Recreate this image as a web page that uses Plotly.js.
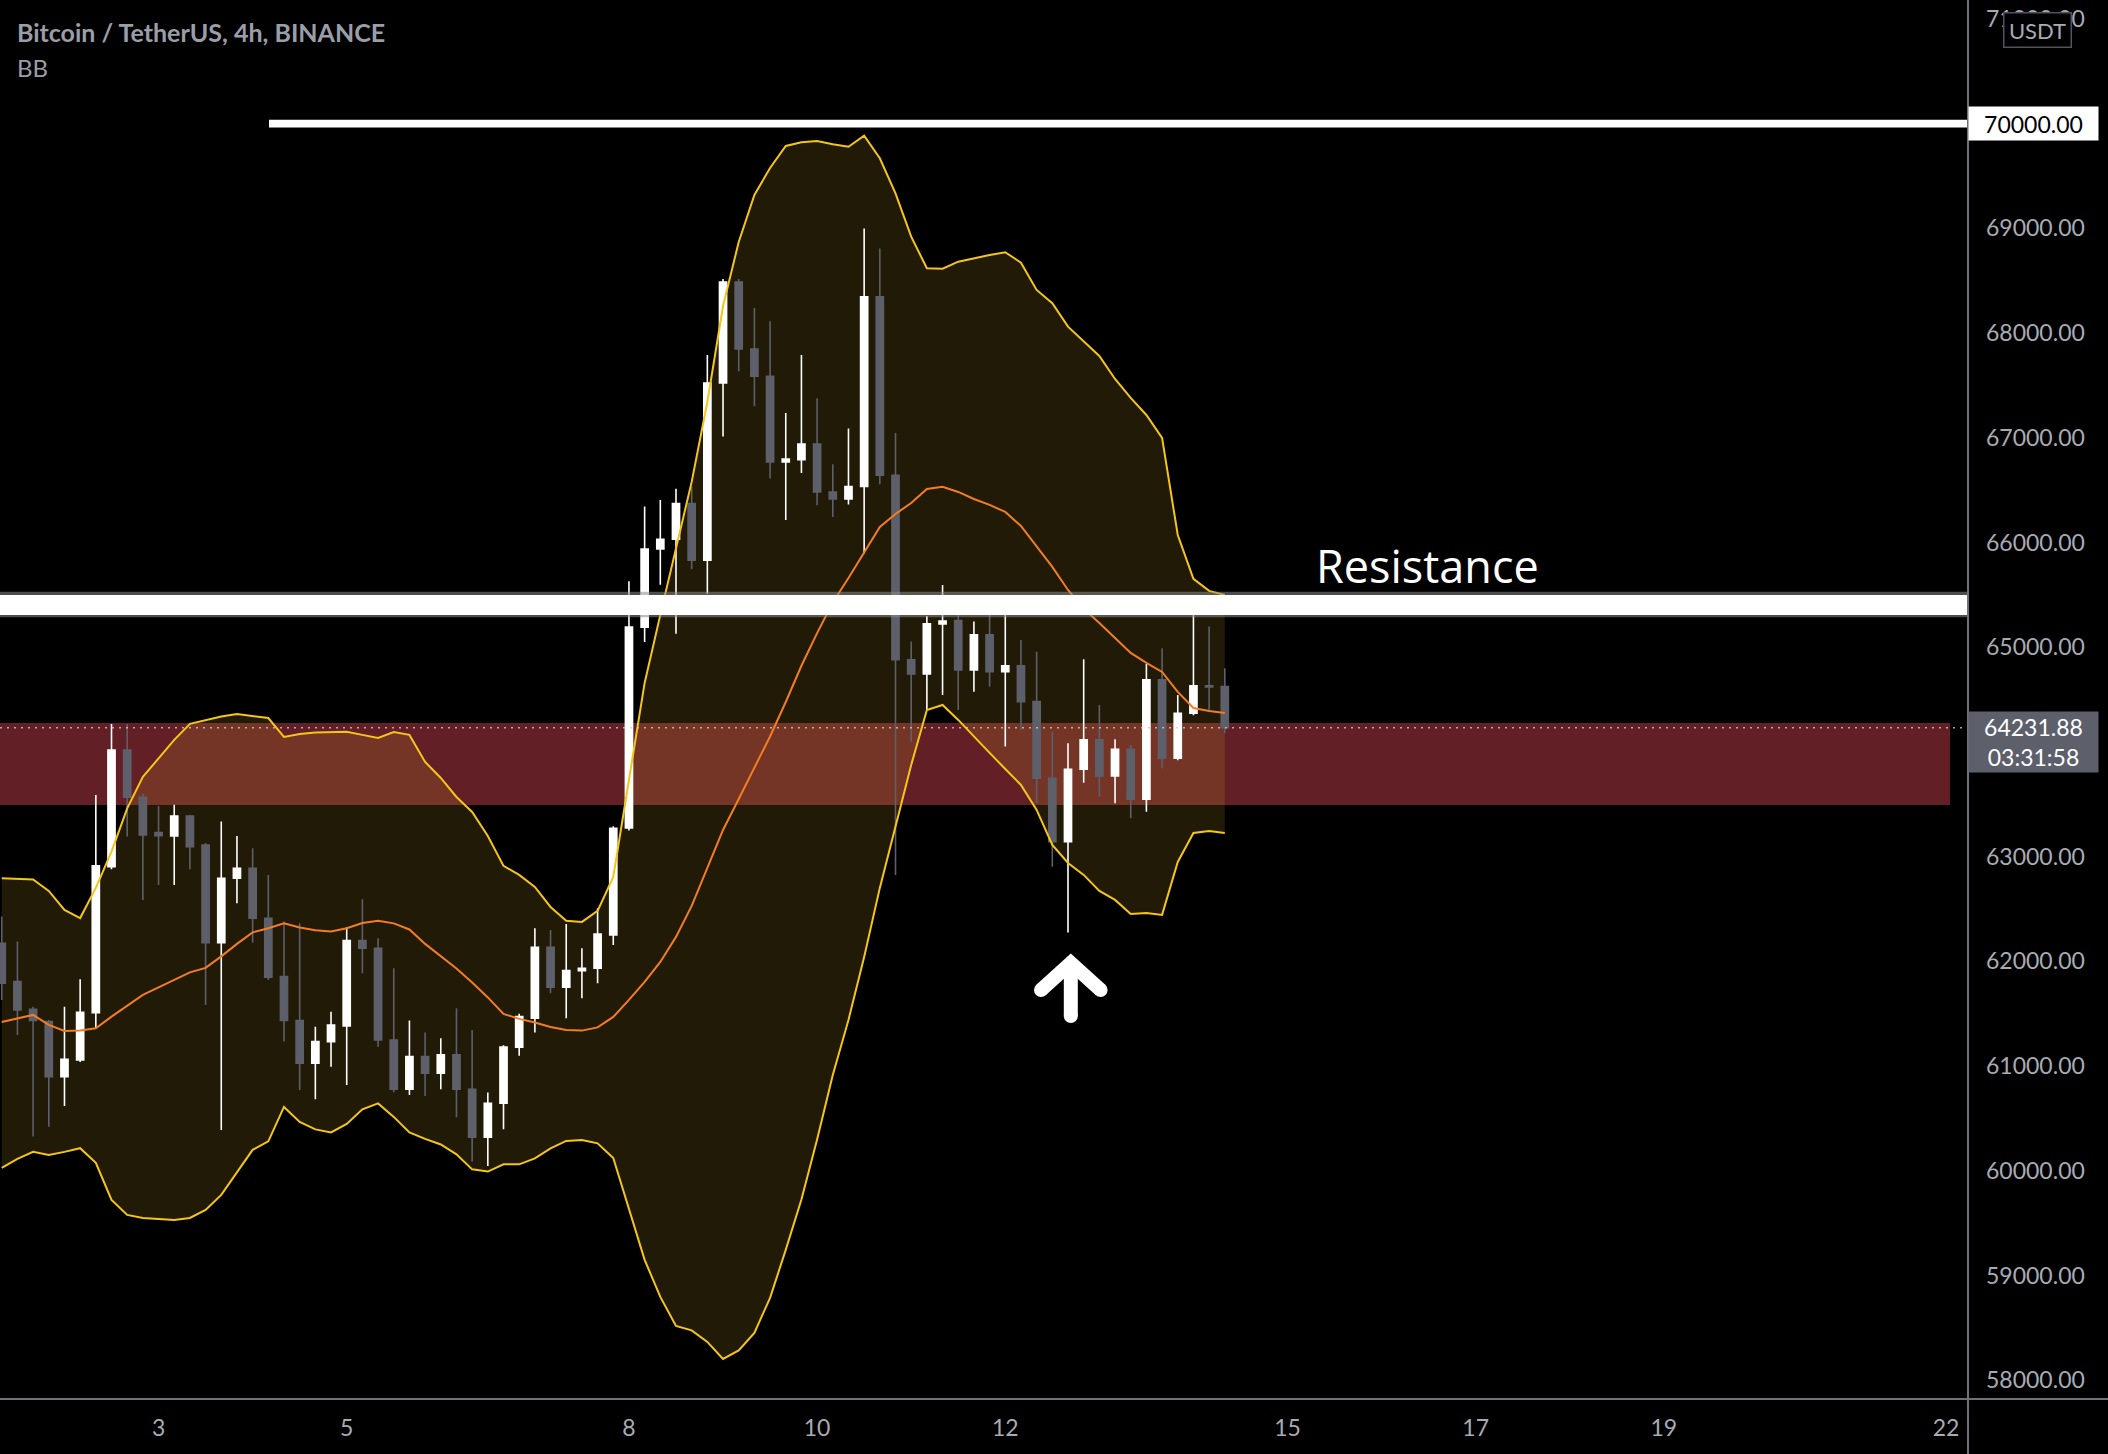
<!DOCTYPE html>
<html>
<head>
<meta charset="utf-8">
<script src="https://cdn.plot.ly/plotly-3.0.1.min.js"></script>
<style>
  html, body { margin: 0; padding: 0; background: #000; }
  #chart { width: 2108px; height: 1454px; }
</style>
</head>
<body>
<div id="chart"></div>
<script>
// ---------------- DATA ----------------
// BTCUSDT 4h candles, first visible bar opens 2021-11-01 08:00 (UTC)
const firstBarUTC = Date.UTC(2021, 10, 1, 8, 0, 0);
const barHours = 4;

const opens = [62173,61807,61543,61425,60900,61059,61511,62905,64019,63568,
  63230,63198,63389,63112,62179,62794,62890,62412,61855,61435,
  61028,61234,61384,62198,62126,61250,60779,61091,60932,61107,
  60779,60321,60646,61181,61457,62135,61753,61912,61935,62253,
  63274,65192,65938,66031,66372,65831,67524,68487,67848,67588,
  66769,66791,66940,66483,66415,66535,68346,66642,64879,64745,
  65223,65254,64783,65118,64767,64822,64481,63749,63144,63835,
  64115,63771,64026,63549,64688,63940,64370,64631,64625];
const highs = [62428,62189,61568,61440,61568,61830,63590,64268,64268,63600,
  63485,63495,63400,63130,63335,63198,63081,62826,62380,62365,
  61377,61520,62326,62594,62221,61935,61435,61320,61266,61553,
  61346,60747,61200,61500,62317,62300,62358,62126,62508,63290,
  65630,66343,66407,66514,66535,67792,68517,68517,68240,68112,
  67237,67792,67379,66748,67089,68999,68807,67047,65054,65299,
  65595,65468,65245,65309,65309,65070,64958,64194,64083,64886,
  64449,64122,64067,64841,64991,64545,65400,65197,64800];
const lows = [61632,61298,60327,60422,60620,61040,61362,62880,63192,62587,
  62730,62730,62880,61584,60391,62556,62179,61823,61234,60773,
  60684,60995,60820,61887,61186,60750,60725,60715,60779,60512,
  60088,60047,60398,61098,61320,61696,61457,61648,61792,62157,
  63250,65051,65597,65128,65746,65511,67012,67635,67301,66611,
  66216,66663,66355,66244,66364,65895,66556,62826,64099,64401,
  64545,64401,64576,64624,64051,64210,63511,62905,62275,63707,
  63574,63511,63367,63430,63845,63920,64350,64401,64179];
const closes = [61792,61537,61435,60900,61066,61515,62912,64019,63568,63208,
  63200,63389,63096,62179,62794,62890,62412,61849,61435,61028,
  61234,61393,62198,62126,61250,60779,61091,60932,61107,60779,
  60321,60646,61181,61473,62135,61753,61912,61935,62262,63272,
  65192,65938,66031,66372,65831,67524,68487,67848,67588,66769,
  66798,66940,66483,66415,66535,68346,66642,64881,64745,65223,
  65251,64783,65118,64767,64822,64481,63749,63144,63835,64115,
  63771,64026,63549,64688,63940,64370,64631,64620,64231.88];

// Bollinger Bands (20, 2)
const bbUpper = [62794,62792,62783,62673,62492,62414,62702,63048,63462,63762,
  63943,64115,64268,64306,64339,64362,64343,64324,64144,64172,
  64185,64191,64194,64163,64133,64191,64163,63905,63752,63570,
  63427,63198,62912,62826,62711,62520,62387,62377,62482,62807,
  63733,64659,65309,65944,66579,67342,68259,68870,69319,69577,
  69787,69822,69835,69803,69780,69885,69670,69335,68921,68619,
  68615,68682,68715,68746,68772,68673,68412,68285,68062,67925,
  67782,67562,67381,67218,66999,66072,65653,65538,65499];
const bbBasis = [61422,61456,61489,61393,61336,61341,61362,61473,61575,61680,
  61752,61823,61895,61938,62048,62167,62277,62317,62363,62324,
  62298,62286,62316,62367,62388,62363,62305,62167,62052,61933,
  61799,61656,61499,61451,61417,61374,61346,61339,61370,61470,
  61632,61804,61995,62234,62530,62893,63255,63551,63848,64148,
  64477,64823,65135,65427,65662,65907,66149,66273,66378,66512,
  66533,66483,66416,66359,66292,66158,65967,65767,65547,65366,
  65232,65089,64946,64850,64764,64573,64420,64391,64373];
const bbLower = [60028,60114,60181,60152,60181,60216,60076,59722,59579,59550,
  59541,59531,59550,59627,59770,59990,60200,60281,60610,60467,
  60396,60367,60448,60587,60644,60515,60367,60305,60252,60157,
  60014,59993,60062,60062,60119,60214,60286,60295,60262,60123,
  59637,59150,58796,58519,58476,58366,58204,58285,58452,58787,
  59245,59726,60300,60916,61441,62043,62702,63303,63876,64401,
  64449,64306,64144,63991,63838,63685,63447,63112,62940,62826,
  62673,62587,62453,62463,62444,62950,63227,63246,63227];

// Axis ticks (64000 and 70000 sit under the price labels, as on the original)
const dayTickVals = ['2021-11-03','2021-11-05','2021-11-08','2021-11-10','2021-11-12',
                     '2021-11-15','2021-11-17','2021-11-19','2021-11-22'];
const dayTickText = ['3','5','8','10','12','15','17','19','22'];
const priceTickVals = [58000,59000,60000,61000,62000,63000,65000,66000,67000,68000,69000,71000];
const priceTickText = priceTickVals.map(v => v.toFixed(2));

// Drawn levels
const lastPrice = 64231.88;
const countdown = '03:31:58';
const roundLevel = 70000;
const resistanceLow = 65309, resistanceHigh = 65500;
const supportLow = 63494, supportHigh = 64277;

// ---------------- BUILD ----------------
const times = closes.map((_, i) =>
  new Date(firstBarUTC + i * barHours * 3600e3).toISOString().slice(0, 19).replace('T', ' '));

const W = 2108, H = 1454;
const PL = 0, PR = 1968, PT = 0, PB = 1399;           // plot area in px
const px = x => (x - PL) / (PR - PL);
const py = y => 1 - (y - PT) / (PB - PT);

const xRange = ['2021-11-01 07:33:13', '2021-11-22 05:35:30'];
const yRange = [57821, 71181];

const tickFont = { family: 'Lato, "Open Sans", sans-serif', size: 23, color: '#a9abb2' };
const yellow = '#f5c518', orange = '#f47d20';

const traces = [
  { type: 'scatter', mode: 'lines', x: times, y: bbUpper, line: { width: 0, color: 'rgba(0,0,0,0)' },
    hoverinfo: 'skip', showlegend: false, xaxis: 'x', yaxis: 'y' },
  { type: 'scatter', mode: 'lines', x: times, y: bbLower, line: { width: 0, color: 'rgba(0,0,0,0)' },
    fill: 'tonexty', fillcolor: 'rgba(245,200,50,0.13)', hoverinfo: 'skip', showlegend: false, xaxis: 'x', yaxis: 'y' },
  { type: 'candlestick', x: times, open: opens, high: highs, low: lows, close: closes,
    increasing: { line: { color: '#ffffff', width: 1.6 }, fillcolor: '#ffffff' },
    decreasing: { line: { color: '#5d606b', width: 1.6 }, fillcolor: '#5d606b' },
    whiskerwidth: 0, hoverinfo: 'skip', showlegend: false, xaxis: 'x2', yaxis: 'y2' },
  { type: 'scatter', mode: 'lines', x: times, y: bbBasis, line: { width: 2, color: orange },
    hoverinfo: 'skip', showlegend: false, xaxis: 'x2', yaxis: 'y2' },
  { type: 'scatter', mode: 'lines', x: times, y: bbUpper, line: { width: 2, color: yellow },
    hoverinfo: 'skip', showlegend: false, xaxis: 'x2', yaxis: 'y2' },
  { type: 'scatter', mode: 'lines', x: times, y: bbLower, line: { width: 2, color: yellow },
    hoverinfo: 'skip', showlegend: false, xaxis: 'x2', yaxis: 'y2' }
];

const arrow = { tip: [1070.8, 963], left: [1041, 990], right: [1100.6, 990], tail: [1070.8, 1016], r: 7 };
const capCircle = (c) => ({ type: 'circle', xref: 'paper', yref: 'paper',
  x0: px(c[0] - arrow.r), x1: px(c[0] + arrow.r), y0: py(c[1] + arrow.r), y1: py(c[1] - arrow.r),
  fillcolor: '#ffffff', line: { width: 0 }, layer: 'above' });

const shapes = [
  // support zone
  { type: 'rect', xref: 'paper', yref: 'y', x0: 0, x1: px(1950), y0: supportLow, y1: supportHigh,
    fillcolor: '#621f25', line: { width: 0 }, layer: 'below' },
  // last price dotted line
  { type: 'line', xref: 'paper', yref: 'y', x0: 0, x1: 1, y0: lastPrice, y1: lastPrice,
    line: { color: 'rgba(205,205,205,0.8)', width: 1.5, dash: '2px,5px' }, layer: 'above' },
  // resistance band (grey halo + white core)
  { type: 'rect', xref: 'paper', yref: 'y', x0: 0, x1: 1, y0: 65287, y1: 65531,
    fillcolor: 'rgba(140,140,140,0.55)', line: { width: 0 }, layer: 'above' },
  { type: 'rect', xref: 'paper', yref: 'y', x0: 0, x1: 1, y0: resistanceLow, y1: resistanceHigh,
    fillcolor: '#ffffff', line: { width: 0 }, layer: 'above' },
  // 70000 horizontal line
  { type: 'rect', xref: 'paper', yref: 'y', x0: px(269), x1: 1, y0: roundLevel - 37, y1: roundLevel + 37,
    fillcolor: '#ffffff', line: { width: 0 }, layer: 'above' },
  // axis frame lines
  { type: 'line', xref: 'paper', yref: 'paper', x0: 1, x1: 1, y0: py(H), y1: 1,
    line: { color: '#6f7279', width: 2 }, layer: 'above' },
  { type: 'line', xref: 'paper', yref: 'paper', x0: 0, x1: px(W), y0: 0, y1: 0,
    line: { color: '#6f7279', width: 2 }, layer: 'above' },
  // up arrow
  { type: 'path', xref: 'paper', yref: 'paper',
    path: `M ${px(arrow.left[0])},${py(arrow.left[1])} L ${px(arrow.tip[0])},${py(arrow.tip[1])} L ${px(arrow.right[0])},${py(arrow.right[1])}`,
    line: { color: '#ffffff', width: 14 }, layer: 'above' },
  { type: 'line', xref: 'paper', yref: 'paper', x0: px(arrow.tip[0]), x1: px(arrow.tail[0]),
    y0: py(arrow.tip[1] + 4), y1: py(arrow.tail[1]), line: { color: '#ffffff', width: 14 }, layer: 'above' },
  capCircle(arrow.left), capCircle(arrow.right), capCircle(arrow.tail)
];

const annotations = [
  { xref: 'paper', yref: 'paper', x: px(15), y: py(32), xanchor: 'left', yanchor: 'middle', showarrow: false,
    text: 'Bitcoin / TetherUS, 4h, BINANCE',
    font: { family: 'Lato, "Open Sans", sans-serif', size: 25, color: '#9b9ea8', weight: 'bold' } },
  { xref: 'paper', yref: 'paper', x: px(15), y: py(67), xanchor: 'left', yanchor: 'middle', showarrow: false,
    text: 'BB', font: { family: 'Lato, "Open Sans", sans-serif', size: 24, color: '#9b9ea8' } },
  { xref: 'paper', yref: 'paper', x: px(1427), y: py(565), xanchor: 'center', yanchor: 'middle', showarrow: false,
    text: 'Resistance', font: { family: '"Open Sans", Lato, sans-serif', size: 45, color: '#ffffff' } },
  { xref: 'paper', yref: 'paper', x: px(1968), y: py(123.5), xanchor: 'left', yanchor: 'middle', showarrow: false,
    text: roundLevel.toFixed(2), bgcolor: '#ffffff', borderpad: 2, width: 125, height: 29, align: 'center',
    font: { family: 'Lato, "Open Sans", sans-serif', size: 23, color: '#000000' } },
  { xref: 'paper', yref: 'paper', x: px(1968), y: py(741.7), xanchor: 'left', yanchor: 'middle', showarrow: false,
    text: lastPrice.toFixed(2) + '<br>' + countdown, bgcolor: '#5d606b', borderpad: 2, width: 125, height: 56,
    align: 'center', font: { family: 'Lato, "Open Sans", sans-serif', size: 23, color: '#ffffff' } },
  { xref: 'paper', yref: 'paper', x: px(2037.5), y: py(30), xanchor: 'center', yanchor: 'middle', showarrow: false,
    text: 'USDT', bgcolor: '#000000', bordercolor: '#50535e', borderwidth: 1.5, borderpad: 2, width: 62, height: 29,
    font: { family: 'Lato, "Open Sans", sans-serif', size: 22, color: '#a9abb2' } }
];

const layout = {
  width: W, height: H,
  margin: { l: PL, r: W - PR, t: PT, b: H - PB, pad: 0 },
  paper_bgcolor: '#000000', plot_bgcolor: '#000000',
  showlegend: false, boxgap: 0.35, hovermode: false,
  xaxis: { type: 'date', range: xRange, showgrid: false, zeroline: false, showline: false,
    tickmode: 'array', tickvals: dayTickVals, ticktext: dayTickText, ticks: '',
    tickfont: tickFont, ticklabelstandoff: 13, rangeslider: { visible: false }, fixedrange: true },
  yaxis: { range: yRange, side: 'right', showgrid: false, zeroline: false, showline: false,
    tickmode: 'array', tickvals: priceTickVals, ticktext: priceTickText, ticks: '',
    tickfont: tickFont, ticklabelstandoff: 17, fixedrange: true },
  xaxis2: { type: 'date', range: xRange, overlaying: 'x', visible: false, rangeslider: { visible: false }, fixedrange: true },
  yaxis2: { range: yRange, overlaying: 'y', visible: false, fixedrange: true },
  shapes: shapes,
  annotations: annotations
};

Plotly.newPlot('chart', traces, layout, { staticPlot: true, displayModeBar: false });
</script>
</body>
</html>
